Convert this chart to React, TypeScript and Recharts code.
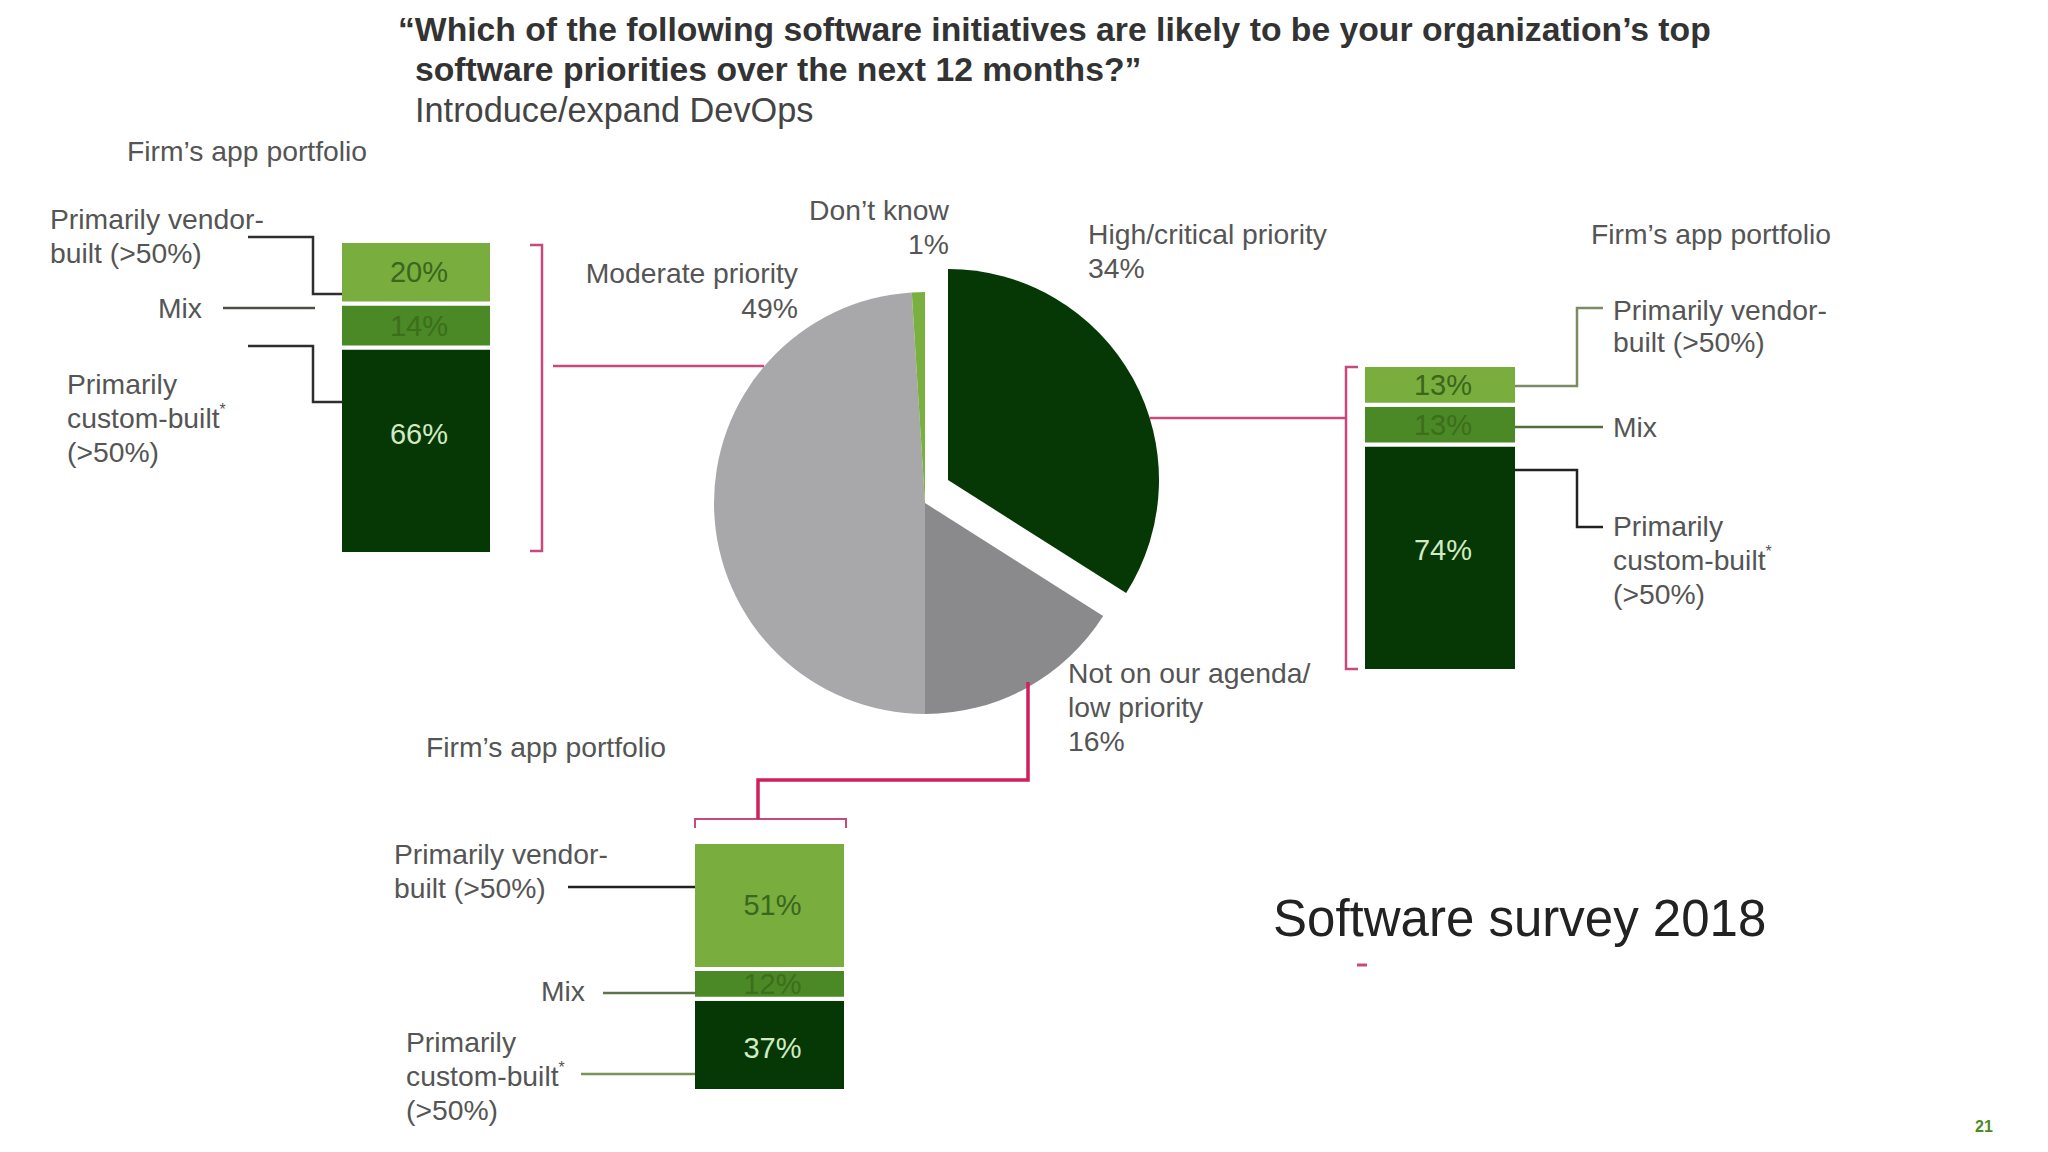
import React from "react";
import { BarChart, Bar, XAxis, YAxis, LabelList, PieChart, Pie, Cell } from "recharts";

// pie: clockwise from 12 o'clock
const priorityNames = ["High/critical priority", "Not on our agenda/low priority", "Moderate priority", "Don't know"];
const priorityShares = [34, 16, 49, 1];
const priorityColors = ["#053805", "#8a898b", "#a8a8aa", "#7ab040"];

// portfolio split per priority group: custom-built, mix, vendor-built
const portfolioKeys = ["custom", "mix", "vendor"];
const highPortfolio = [74, 13, 13];
const moderatePortfolio = [66, 14, 20];
const lowPortfolio = [37, 12, 51];

const segFill = ["#053805", "#4b8826", "#79ad3e"];
const segText = ["#d3ebc2", "#3c6e1c", "#3b661d"];

const FONT = "'Liberation Sans', Arial, Helvetica, sans-serif";
const GRAY = "#555";
const PINK = "#c8497c";
const LBL = 28.3;

const pieData = priorityNames.map((name, i) => ({ name, value: priorityShares[i] }));

function PortfolioBar({ values, left, top, width, height, customShift = 0 }: { values: number[]; left: number; top: number; width: number; height: number; customShift?: number }) {
  const row = [{ name: "portfolio", custom: values[0], mix: values[1], vendor: values[2] }];
  return (
    <div style={{ position: "absolute", left, top }}>
      <BarChart width={width} height={height} data={row} margin={{ top: 0, right: 0, bottom: 0, left: 0 }} barCategoryGap={0} barGap={0}>
        <XAxis dataKey="name" hide />
        <YAxis hide domain={[0, 100]} />
        {portfolioKeys.map((k, i) => (
          <Bar key={k} dataKey={k} stackId="p" fill={segFill[i]} stroke="#fff" strokeWidth={4} isAnimationActive={false}>
            <LabelList
              dataKey={k}
              content={(p: any) => (
                <text
                  x={Number(p.x) + Number(p.width) / 2 + 3}
                  y={Number(p.y) + Number(p.height) / 2 + (i === 0 ? customShift : 0)}
                  textAnchor="middle"
                  dominantBaseline="central"
                  fontSize={29}
                  fontFamily={FONT}
                  fill={segText[i]}
                >
                  {`${p.value}%`}
                </text>
              )}
            />
          </Bar>
        ))}
      </BarChart>
    </div>
  );
}

function Txt({ x, y, children, anchor = "start", size = LBL, weight = 400, fill = GRAY }: any) {
  return (
    <text x={x} y={y} textAnchor={anchor} dominantBaseline="central" fontSize={size} fontWeight={weight} fill={fill} fontFamily={FONT}>
      {children}
    </text>
  );
}

const Star = () => (
  <tspan fontSize={16} dy={-9}>*</tspan>
);

export default function App() {
  return (
    <div style={{ position: "absolute", left: 0, top: 0, width: 2048, height: 1152, background: "#fff", overflow: "hidden" }}>
      <div style={{ position: "absolute", left: 680, top: 240 }}>
        <PieChart width={520} height={520} margin={{ top: 0, right: 0, bottom: 0, left: 0 }}>
          <Pie data={pieData} dataKey="value" cx={245} cy={263} outerRadius={211} startAngle={90} endAngle={-270} stroke="none" isAnimationActive={false}>
            {pieData.map((d, i) => (
              <Cell key={d.name} fill={i === 0 ? "none" : priorityColors[i]} />
            ))}
          </Pie>
          <Pie data={pieData} dataKey="value" cx={268} cy={240} outerRadius={211} startAngle={90} endAngle={-270} stroke="none" isAnimationActive={false}>
            {pieData.map((d, i) => (
              <Cell key={d.name} fill={i === 0 ? priorityColors[0] : "none"} />
            ))}
          </Pie>
        </PieChart>
      </div>

      <PortfolioBar values={moderatePortfolio} left={340} top={241} width={152} height={313} customShift={-17} />
      <PortfolioBar values={highPortfolio} left={1363} top={365} width={154} height={306} customShift={-8} />
      <PortfolioBar values={lowPortfolio} left={693} top={842} width={153} height={249} customShift={3} />

      <svg width={2048} height={1152} style={{ position: "absolute", left: 0, top: 0, pointerEvents: "none" }}>
        {/* title */}
        <Txt x={398} y={29} size={33.7} weight={700} fill="#333">“Which of the following software initiatives are likely to be your organization’s top</Txt>
        <Txt x={415} y={69} size={33.7} weight={700} fill="#333">software priorities over the next 12 months?”</Txt>
        <Txt x={415} y={110} size={34.3} fill="#444">Introduce/expand DevOps</Txt>

        {/* pie labels */}
        <Txt x={949} y={210} anchor="end">Don’t know</Txt>
        <Txt x={949} y={244} anchor="end">1%</Txt>
        <Txt x={798} y={273} anchor="end">Moderate priority</Txt>
        <Txt x={798} y={308} anchor="end">49%</Txt>
        <Txt x={1088} y={234}>High/critical priority</Txt>
        <Txt x={1088} y={268}>34%</Txt>
        <Txt x={1068} y={673}>Not on our agenda/</Txt>
        <Txt x={1068} y={707}>low priority</Txt>
        <Txt x={1068} y={741}>16%</Txt>

        {/* pink connectors */}
        <g fill="none" stroke={PINK} strokeWidth={2.5}>
          <path d="M530 245 H542 V551 H530" />
          <path d="M553 366 H764" />
          <path d="M1150 418 H1346" />
          <path d="M1358 367 H1346 V669 H1358" />
          <path d="M695 828 V819 H846 V828" strokeWidth={2} />
        </g>
        <path d="M758 819 V780 H1028 V682" fill="none" stroke="#cf1f5c" strokeWidth={3.5} />

        {/* left portfolio */}
        <Txt x={127} y={151}>Firm’s app portfolio</Txt>
        <Txt x={50} y={219}>Primarily vendor-</Txt>
        <Txt x={50} y={253}>built (&gt;50%)</Txt>
        <Txt x={202} y={308} anchor="end">Mix</Txt>
        <Txt x={67} y={384}>Primarily</Txt>
        <Txt x={67} y={418}>custom-built<Star /></Txt>
        <Txt x={67} y={452}>(&gt;50%)</Txt>
        <g fill="none" strokeWidth={2.5}>
          <path d="M248 237 H313 V294 H342" stroke="#2e2e2e" />
          <path d="M223 308 H315" stroke="#4a4f44" />
          <path d="M248 346 H313 V402 H342" stroke="#2e2e2e" />
        </g>

        {/* right portfolio */}
        <Txt x={1591} y={234}>Firm’s app portfolio</Txt>
        <Txt x={1613} y={310}>Primarily vendor-</Txt>
        <Txt x={1613} y={342}>built (&gt;50%)</Txt>
        <Txt x={1613} y={427}>Mix</Txt>
        <Txt x={1613} y={526}>Primarily</Txt>
        <Txt x={1613} y={560}>custom-built<Star /></Txt>
        <Txt x={1613} y={594}>(&gt;50%)</Txt>
        <g fill="none" strokeWidth={2.5}>
          <path d="M1515 386 H1577 V308 H1603" stroke="#7d8b64" />
          <path d="M1515 427 H1603" stroke="#4f6f3a" />
          <path d="M1515 470 H1577 V527 H1603" stroke="#222" />
        </g>

        {/* bottom portfolio */}
        <Txt x={426} y={747}>Firm’s app portfolio</Txt>
        <Txt x={394} y={854}>Primarily vendor-</Txt>
        <Txt x={394} y={888}>built (&gt;50%)</Txt>
        <Txt x={585} y={991} anchor="end">Mix</Txt>
        <Txt x={406} y={1042}>Primarily</Txt>
        <Txt x={406} y={1076}>custom-built<Star /></Txt>
        <Txt x={406} y={1110}>(&gt;50%)</Txt>
        <g fill="none" strokeWidth={2.5}>
          <path d="M568 887 H695" stroke="#222" />
          <path d="M603 993 H695" stroke="#5e7448" />
          <path d="M581 1074 H695" stroke="#7b9455" />
        </g>

        <Txt x={1273} y={918} size={51} fill="#222">Software survey 2018</Txt>
        <path d="M1357 965 H1367" stroke="#c8497c" strokeWidth={3} />
        <Txt x={1984} y={1126} anchor="middle" size={16} weight={700} fill="#4d8a1f">21</Txt>
      </svg>
    </div>
  );
}
